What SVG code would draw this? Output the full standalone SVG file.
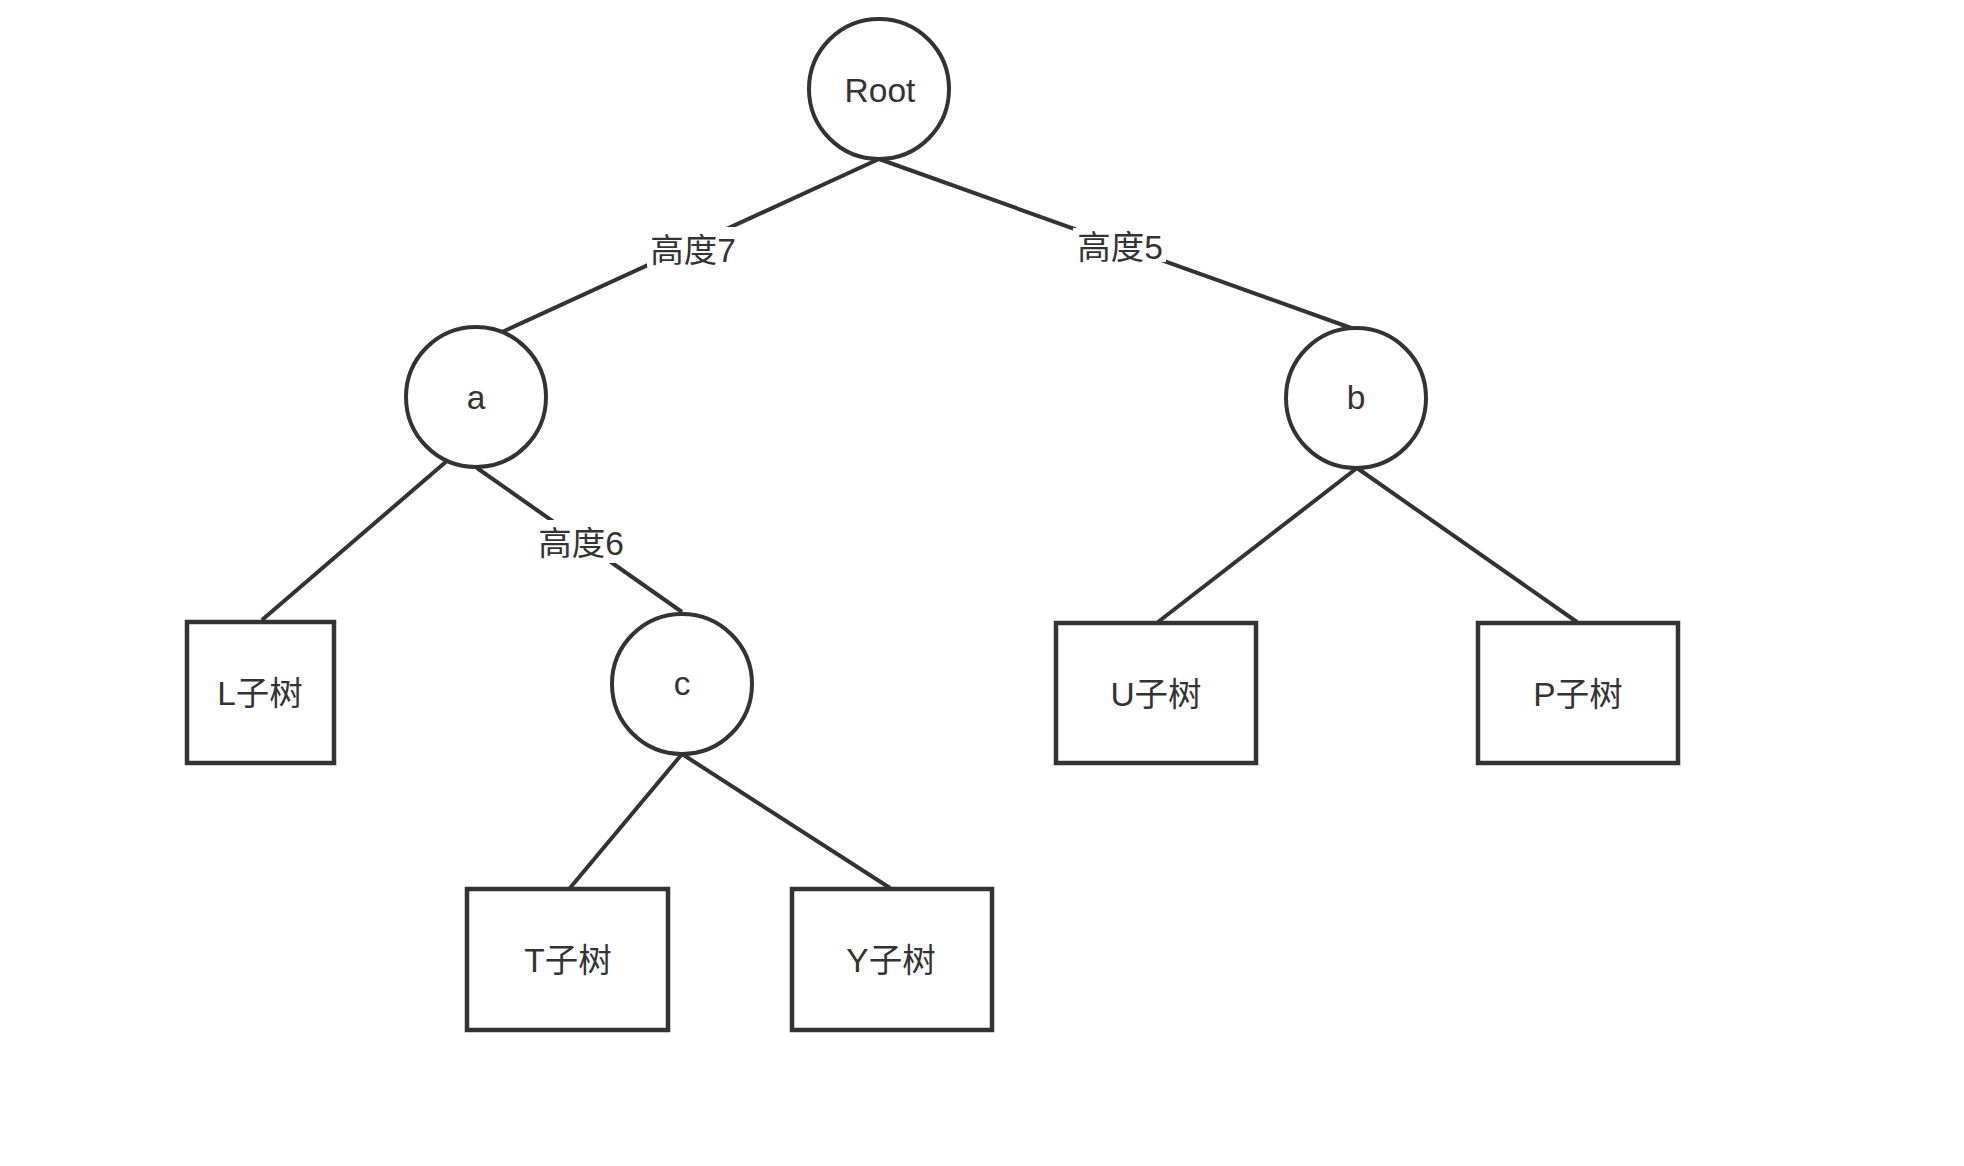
<svg xmlns="http://www.w3.org/2000/svg" width="1964" height="1166" viewBox="0 0 1964 1166">
  <style>
    .edge { stroke: #333333; stroke-width: 4; fill: none; stroke-linecap: butt; }
    .circle { fill: #ffffff; stroke: #333333; stroke-width: 4; }
    .box { fill: #ffffff; stroke: #333333; stroke-width: 4.5; }
    .lbl-bg { fill: #ffffff; stroke: none; }
    text { font-family: "Liberation Sans", "Noto Sans CJK SC", sans-serif; font-size: 33.5px; fill: #333333; text-anchor: middle; }
  </style>
  <rect x="0" y="0" width="1964" height="1166" fill="#ffffff"/>

  <!-- connectors -->
  <g id="connectors">
    <line class="edge" x1="879" y1="159" x2="502" y2="332"/>
    <line class="edge" x1="879" y1="159" x2="1354" y2="329"/>
    <line class="edge" x1="448" y1="460" x2="262" y2="620"/>
    <line class="edge" x1="477" y1="468" x2="682" y2="612"/>
    <line class="edge" x1="1357" y1="468" x2="1158" y2="622"/>
    <line class="edge" x1="1357" y1="468" x2="1577" y2="622"/>
    <line class="edge" x1="682" y1="754" x2="570" y2="888"/>
    <line class="edge" x1="682" y1="754" x2="890" y2="888"/>
    <!-- edge labels -->
    <g id="label-h7">
      <rect class="lbl-bg" x="647" y="227" width="89" height="40"/>
      <text x="693" y="262">高度7</text>
    </g>
    <g id="label-h5">
      <rect class="lbl-bg" x="1073" y="228" width="93" height="34"/>
      <text x="1120" y="259">高度5</text>
    </g>
    <g id="label-h6">
      <rect class="lbl-bg" x="536" y="520" width="90" height="43"/>
      <text x="581" y="555">高度6</text>
    </g>
  </g>

  <!-- circular nodes -->
  <g id="node-root">
    <circle class="circle" cx="879" cy="89" r="70"/>
    <text x="880" y="102">Root</text>
  </g>
  <g id="node-a">
    <circle class="circle" cx="476" cy="397" r="70"/>
    <text x="476" y="409">a</text>
  </g>
  <g id="node-b">
    <circle class="circle" cx="1356" cy="398" r="70"/>
    <text x="1356" y="409">b</text>
  </g>
  <g id="node-c">
    <circle class="circle" cx="682" cy="684" r="70"/>
    <text x="682" y="695">c</text>
  </g>

  <!-- subtree boxes -->
  <g id="node-L">
    <rect class="box" x="187" y="622" width="147" height="141"/>
    <text x="260" y="705">L子树</text>
  </g>
  <g id="node-T">
    <rect class="box" x="467" y="889" width="201" height="141"/>
    <text x="568" y="972">T子树</text>
  </g>
  <g id="node-Y">
    <rect class="box" x="792" y="889" width="200" height="141"/>
    <text x="891" y="972">Y子树</text>
  </g>
  <g id="node-U">
    <rect class="box" x="1056" y="623" width="200" height="140"/>
    <text x="1156" y="706">U子树</text>
  </g>
  <g id="node-P">
    <rect class="box" x="1478" y="623" width="200" height="140"/>
    <text x="1578" y="706">P子树</text>
  </g>
</svg>
